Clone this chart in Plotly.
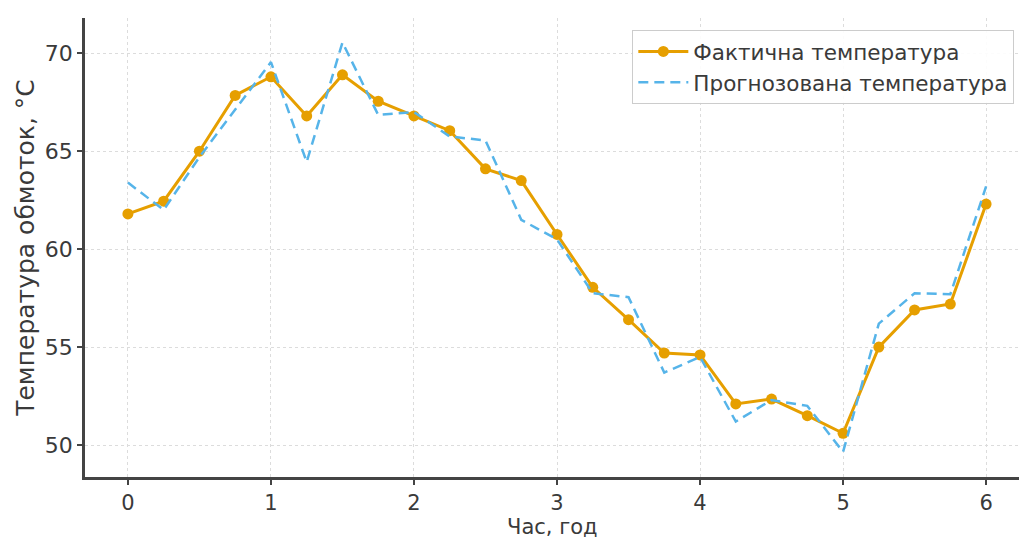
import plotly.graph_objects as go

# Time, hours
hours = [0, 0.25, 0.5, 0.75, 1, 1.25, 1.5, 1.75, 2, 2.25, 2.5, 2.75, 3,
         3.25, 3.5, 3.75, 4, 4.25, 4.5, 4.75, 5, 5.25, 5.5, 5.75, 6]

# Measured winding temperature, °C
actual_temp = [61.8, 62.45, 65.0, 67.85, 68.8, 66.8, 68.9, 67.55, 66.8, 66.05,
               64.1, 63.5, 60.75, 58.05, 56.4, 54.7, 54.6, 52.1, 52.35, 51.5,
               50.6, 55.0, 56.9, 57.2, 62.3]

# Predicted winding temperature, °C
forecast_temp = [63.4, 62.0, 64.7, 67.1, 69.55, 64.45, 70.55, 66.85, 67.0, 65.75,
                 65.55, 61.5, 60.5, 57.75, 57.55, 53.7, 54.5, 51.2, 52.3, 52.0,
                 49.65, 56.2, 57.75, 57.7, 63.2]

x_ticks = [0, 1, 2, 3, 4, 5, 6]
y_ticks = [50, 55, 60, 65, 70]

ORANGE = "#E69F00"
BLUE = "#56B4E9"
TEXT = "#3a3a3a"
FONT = "DejaVu Sans"

fig = go.Figure()
fig.add_trace(go.Scatter(
    x=hours, y=actual_temp, mode="lines+markers",
    name="Фактична температура",
    line=dict(color=ORANGE, width=3),
    marker=dict(color=ORANGE, size=11),
))
fig.add_trace(go.Scatter(
    x=hours, y=forecast_temp, mode="lines",
    name="Прогнозована температура",
    line=dict(color=BLUE, width=2.5, dash="10px,6px"),
))

axis_common = dict(
    showline=True, linecolor="#444444", linewidth=2.5,
    ticks="outside", ticklen=5, tickcolor="#444444", tickwidth=1.5,
    showgrid=True, gridcolor="#dcdcdc", griddash="dot", gridwidth=1,
    zeroline=False, mirror=False,
    automargin=False,
)

fig.update_xaxes(
    range=[-0.3, 6.23], tickvals=x_ticks,
    tickfont=dict(family=FONT, size=21, color=TEXT),
    **axis_common,
)
fig.update_yaxes(
    range=[48.37, 71.8], tickvals=y_ticks,
    tickfont=dict(family=FONT, size=22, color=TEXT),
    title=dict(text="Температура обмоток, °C", font=dict(family=FONT, size=25, color=TEXT), standoff=4),
    **axis_common,
)

# x-axis title placed along the bottom edge, under the tick labels
fig.add_annotation(
    text="Час, год", xref="paper", yref="paper",
    x=0.5, y=-0.137, xanchor="center", yanchor="bottom", yshift=0,
    showarrow=False, borderpad=0, font=dict(family=FONT, size=21, color=TEXT),
)

fig.update_layout(
    width=1019, height=540,
    margin=dict(l=85, r=0, t=18, b=63, autoexpand=False),
    paper_bgcolor="white", plot_bgcolor="white",
    font=dict(family=FONT, color=TEXT),
    legend=dict(
        x=0.586, y=0.974, xanchor="left", yanchor="top",
        bgcolor="rgba(255,255,255,0.9)", bordercolor="#cccccc", borderwidth=1,
        font=dict(family=FONT, size=21.5, color=TEXT),
        itemwidth=50,
    ),
    showlegend=True,
)

fig.write_html("out.html")
